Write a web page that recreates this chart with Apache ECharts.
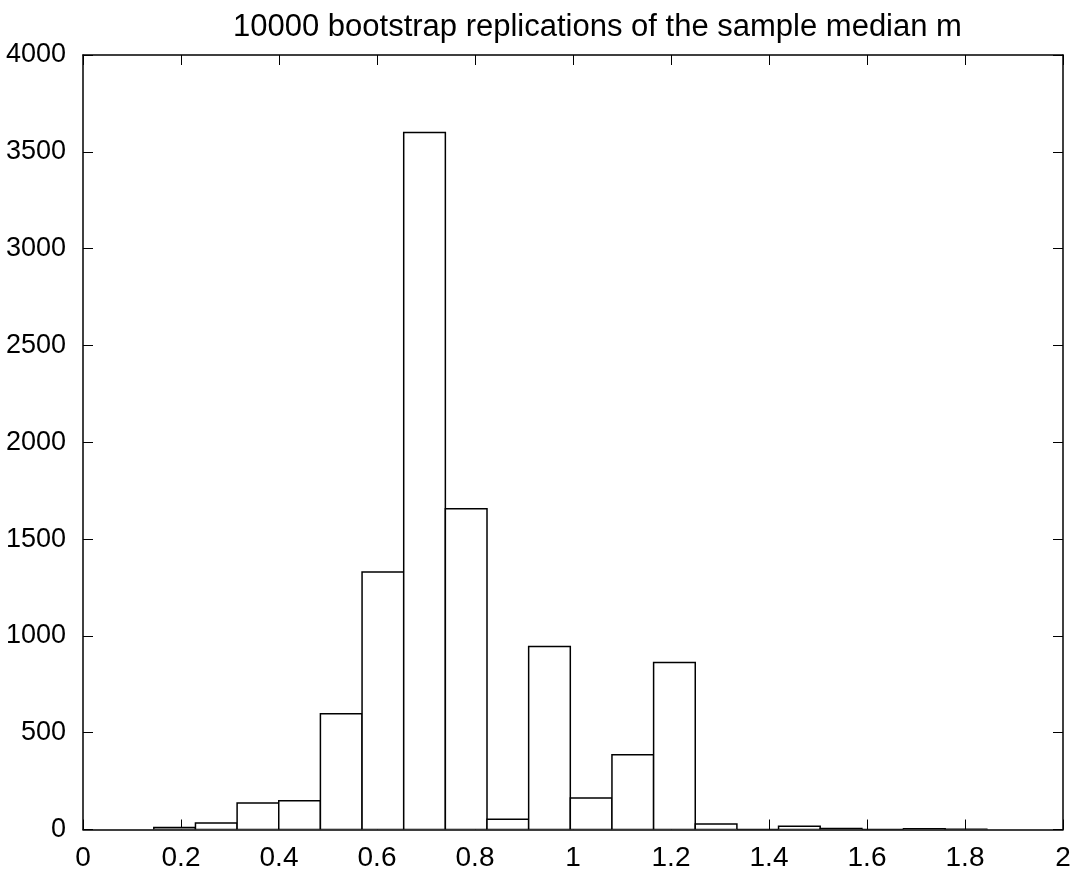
<!DOCTYPE html>
<html>
<head>
<meta charset="utf-8">
<script src="https://cdn.jsdelivr.net/npm/echarts@6/dist/echarts.min.js"></script>
<style>
html,body{margin:0;padding:0;background:#fff;}
#chart{width:1081px;height:874px;}
</style>
</head>
<body>
<div id="chart"></div>
<script>
// Histogram bin edges (20 bins)
const binEdges = [0.1445, 0.2295, 0.3145, 0.3995, 0.4845, 0.5695, 0.6545, 0.7395, 0.8245, 0.9095, 0.9945,
                  1.0795, 1.1645, 1.2495, 1.3345, 1.4195, 1.5045, 1.5895, 1.6745, 1.7595, 1.8445];
// Counts per bin
const counts = [10, 33, 137, 149, 598, 1330, 3600, 1656, 53, 945, 163, 386, 862, 29, 0, 17, 5, 0, 4, 1];
const titleText = '10000 bootstrap replications of the sample median m';
const xTicks = [0, 0.2, 0.4, 0.6, 0.8, 1, 1.2, 1.4, 1.6, 1.8, 2];
const yTicks = [0, 500, 1000, 1500, 2000, 2500, 3000, 3500, 4000];

const barData = counts.map((c, i) => [binEdges[i], binEdges[i + 1], c]);

const FONT = '"Liberation Sans", Arial, Helvetica, sans-serif';
const chart = echarts.init(document.getElementById('chart'), null, {renderer: 'canvas'});

const axisCommon = {
  axisLine: {show: true, onZero: false, lineStyle: {color: '#000', width: 1.5}},
  axisTick: {show: true, inside: true, length: 10, lineStyle: {color: '#000', width: 1}},
  splitLine: {show: false}
};

chart.setOption({
  animation: false,
  backgroundColor: '#fff',
  title: {
    text: titleText,
    left: 228,
    top: 7,
    textStyle: {fontFamily: FONT, fontSize: 31, fontWeight: 'normal', color: '#000'}
  },
  grid: {left: 83, right: 18, top: 55, bottom: 44.5, containLabel: false},
  xAxis: [
    Object.assign({
      type: 'value', min: 0, max: 2, interval: 0.2, position: 'bottom',
      axisLabel: {fontFamily: FONT, fontSize: 28, color: '#000', margin: 15,
        formatter: v => String(+v.toFixed(1))}
    }, axisCommon),
    Object.assign({
      type: 'value', min: 0, max: 2, interval: 0.2, position: 'top',
      axisLabel: {show: false}
    }, axisCommon)
  ],
  yAxis: [
    Object.assign({
      type: 'value', min: 0, max: 4000, interval: 500, position: 'left',
      axisLabel: {fontFamily: FONT, fontSize: 27, color: '#000', margin: 17,
        formatter: v => String(v)}
    }, axisCommon),
    Object.assign({
      type: 'value', min: 0, max: 4000, interval: 500, position: 'right',
      axisLabel: {show: false}
    }, axisCommon)
  ],
  series: [{
    type: 'custom',
    xAxisIndex: 0,
    yAxisIndex: 0,
    data: barData,
    clip: true,
    renderItem: function (params, api) {
      const p0 = api.coord([api.value(0), 0]);
      const p1 = api.coord([api.value(1), api.value(2)]);
      return {
        type: 'rect',
        shape: {x: p0[0], y: p1[1], width: p1[0] - p0[0], height: p0[1] - p1[1]},
        style: {fill: '#fff', stroke: '#000', lineWidth: 1.5}
      };
    }
  }]
});
</script>
</body>
</html>
